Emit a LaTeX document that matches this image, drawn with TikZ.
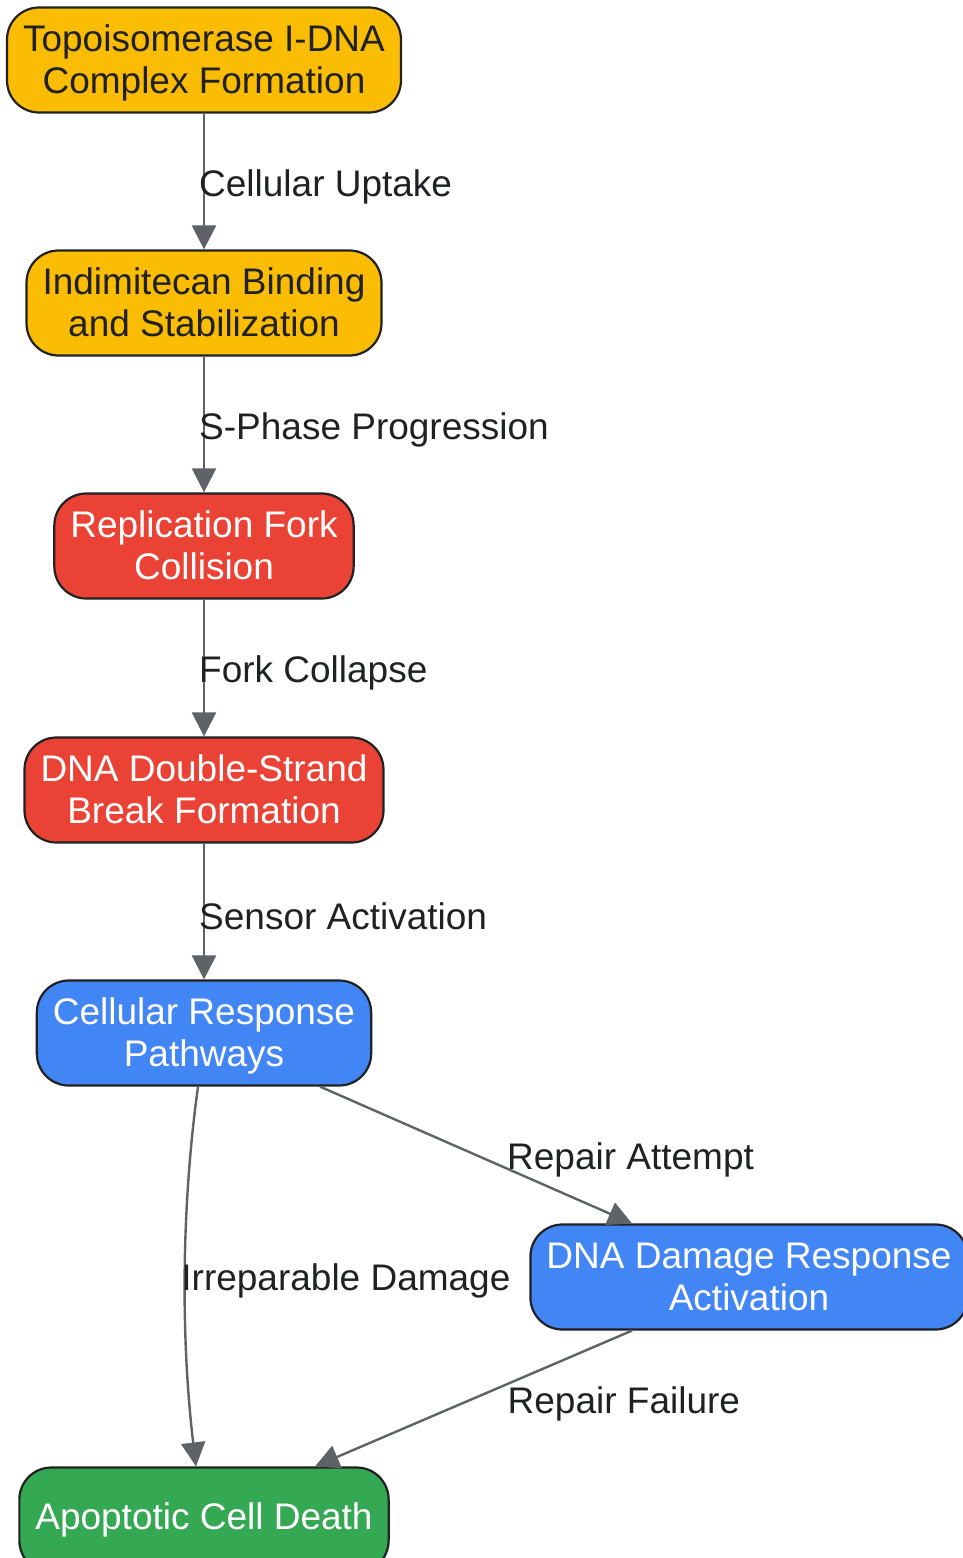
\documentclass[tikz,border=0pt]{standalone}
\usepackage{fontspec}
\setmainfont{Liberation Sans}
\usetikzlibrary{arrows.meta,calc}

\definecolor{gyellow}{HTML}{FBBC04}
\definecolor{gred}{HTML}{EA4335}
\definecolor{gblue}{HTML}{4285F4}
\definecolor{ggreen}{HTML}{34A853}
\definecolor{inkdark}{HTML}{202124}
\definecolor{edgegray}{HTML}{5F6368}

% same line box for every line of a box text
\newcommand{\boxstrut}{\rule[-3.9pt]{0pt}{20.6pt}}

\tikzset{
  box/.style={draw=inkdark, line width=1.1pt, rounded corners=16pt, align=center,
    minimum height=52.5pt, inner xsep=8pt, inner ysep=0pt,
    font=\fontsize{18.5}{21}\selectfont},
  yellowbox/.style={box, fill=gyellow, text=inkdark},
  redbox/.style={box, fill=gred, text=white},
  bluebox/.style={box, fill=gblue, text=white},
  greenbox/.style={box, fill=ggreen, text=white},
  flow/.style={draw=edgegray, line width=1.2pt, -{Triangle[length=12pt,width=12pt]}},
  lbl/.style={text=inkdark, inner sep=0pt, anchor=west,
    font=\fontsize{18.5}{21}\selectfont}
}

\begin{document}
\begin{tikzpicture}[x=0.5pt, y=-0.5pt]
\useasboundingbox (0,0) rectangle (963,1558);

\node[yellowbox] (topo) at (204,60) {\boxstrut Topoisomerase I-DNA\\\boxstrut Complex Formation};
\node[yellowbox] (bind) at (204,303) {\boxstrut Indimitecan Binding\\\boxstrut and Stabilization};
\node[redbox] (fork) at (204,546) {\boxstrut Replication Fork\\\boxstrut Collision};
\node[redbox] (dsb) at (204,790) {\boxstrut DNA Double-Strand\\\boxstrut Break Formation};
\node[bluebox] (resp) at (204,1033) {\boxstrut Cellular Response\\\boxstrut Pathways};
\node[bluebox] (ddr) at (749,1277) {\boxstrut DNA Damage Response\\\boxstrut Activation};
\node[greenbox] (death) at (204,1520) {Apoptotic Cell Death};

\draw[flow] (topo) -- node[lbl, xshift=-3pt, yshift=-2.5pt] {Cellular Uptake} (bind);
\draw[flow] (bind) -- node[lbl, xshift=-3pt, yshift=-2.5pt] {S-Phase Progression} (fork);
\draw[flow] (fork) -- node[lbl, xshift=-3pt, yshift=-2.5pt] {Fork Collapse} (dsb);
\draw[flow] (dsb) -- node[lbl, xshift=-3pt, yshift=-2.5pt] {Sensor Activation} (resp);

\draw[flow] ($(resp.south)+(116,0)$) -- node[lbl, xshift=15pt, yshift=-2.5pt] {Repair Attempt} ($(ddr.north)+(-117,0)$);
\draw[flow] ($(resp.south)+(-6,0)$) .. controls (181,1210) and (181,1340) .. ($(death.north)+(-8,0)$);
\node[lbl] (irr) at (181,1281) {Irreparable Damage};
\draw[flow] ($(ddr.south)+(-117,0)$) -- node[lbl, xshift=16.5pt, yshift=-2.5pt] {Repair Failure} ($(death.north)+(111,0)$);

\end{tikzpicture}
\end{document}
